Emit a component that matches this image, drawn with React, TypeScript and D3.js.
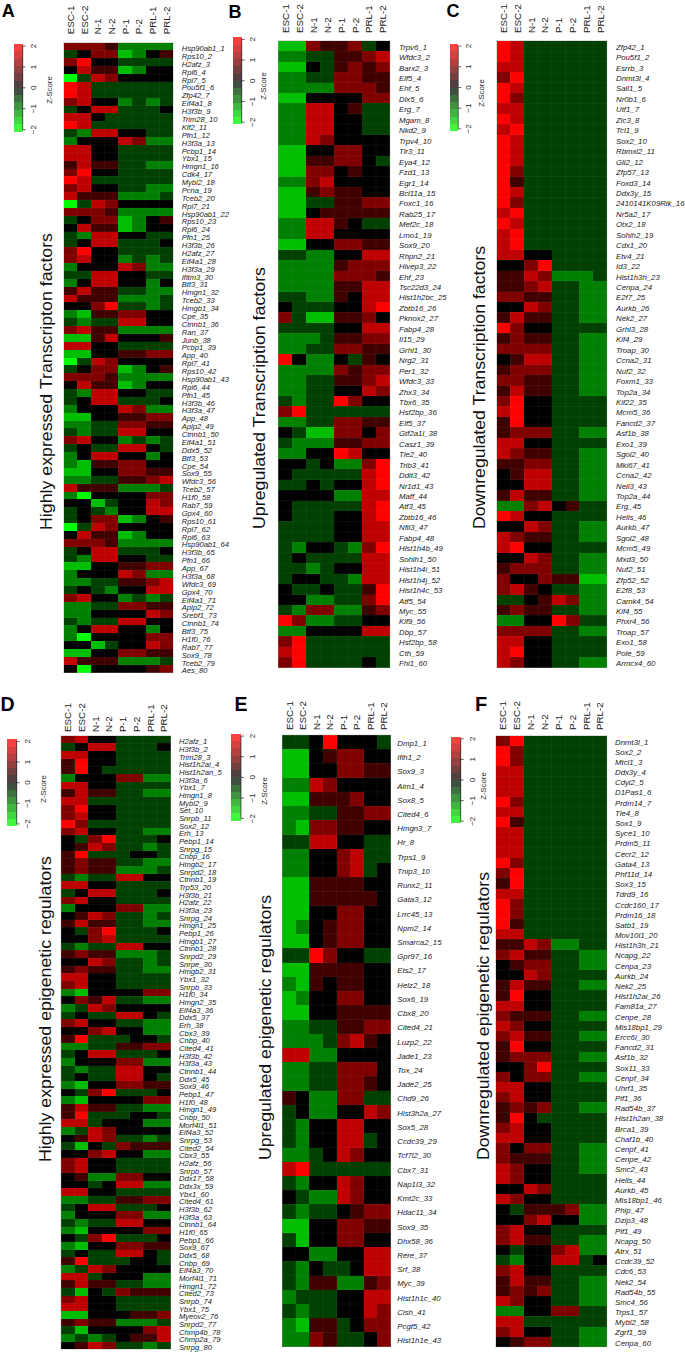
import React from 'react';
import * as d3 from 'd3';

const samples = ["ESC-1", "ESC-2", "N-1", "N-2", "P-1", "P-2", "PRL-1", "PRL-2"];
const keyTicks = [-2, -1, 0, 1, 2];

// level per cell: 0 black, 1-4 red steps, a-d green steps (half a z-score each)
const stepValues: Record<string, number> = { "0": 0, "1": 0.5, "2": 1, "3": 1.5, "4": 2, a: -0.5, b: -1, c: -1.5, d: -2 };

const genesA = ["Hsp90ab1_1","Rps10_2","H2afz_3","Rpl6_4","Rpl7_5","Pou5f1_6","Zfp42_7","Eif4a1_8","H3f3b_9","Trim28_10","Klf2_11","Pfn1_12","H3f3a_13","Pcbp1_14","Ybx1_15","Hmgn1_16","Cdk4_17","Mybl2_18","Pcna_19","Tceb2_20","Rpl7_21","Hsp90ab1_22","Rps10_23","Rpl6_24","Pfn1_25","H3f3b_26","H2afz_27","Eif4a1_28","H3f3a_29","Ifitm3_30","Btf3_31","Hmgn1_32","Tceb2_33","Hmgb1_34","Cpe_35","Ctnnb1_36","Ran_37","Junb_38","Pcbp1_39","App_40","Rpl7_41","Rps10_42","Hsp90ab1_43","Rpl6_44","Pfn1_45","H3f3b_46","H3f3a_47","App_48","Aplp2_49","Ctnnb1_50","Eif4a1_51","Ddx5_52","Btf3_53","Cpe_54","Sox9_55","Wfdc3_56","Tceb2_57","H1f0_58","Rab7_59","Gpx4_60","Rps10_61","Rpl7_62","Rpl6_63","Hsp90ab1_64","H3f3b_65","Pfn1_66","App_67","H3f3a_68","Wfdc3_69","Gpx4_70","Eif4a1_71","Aplp2_72","Srebf1_73","Ctnnb1_74","Btf3_75","H1f0_76","Rab7_77","Sox9_78","Tceb2_79","Aes_80"];
const levelsA = ["2221bbbb","a022cb01","2400aaaa","0311cb00","da320000","43aaaaaa","43aaaaaa","2300baba","a033aaa0","330aaaaa","43aaaaaa","ab3300aa","b00032bb","3300aaaa","3300aaaa","1311aabb","2400aaaa","43aaaaaa","2300aabb","3111bbba","da320000","2221bbbb","a022cb01","0311cb00","ab3300aa","a033aaa0","2400aaaa","2300baba","b00032bb","aa3300aa","b03300b0","1311aabb","3111bbba","0024aaba","bc112200","abaa3300","2311bbbb","cc130001","3300aaaa","cc001122","da320000","a022cb01","2221bbbb","0311cb00","ab3300aa","a033aaa0","b00032bb","cc001122","bbaa2211","abaa3300","2300baba","a0aa330a","b03300b0","bc112200","cc002211","bbaa1123","3111bbba","bd000022","00ca0032","a0ab0033","a022cb01","da320000","0311cb00","2221bbbb","a033aaa0","ab3300aa","cc001122","b00032bb","bbaa1123","a0ab0033","2300baba","bbaa2211","bb000032","abaa3300","b03300b0","bd000022","00ca0032","cc002211","3111bbba","0d000012"];

const genesB = ["Trpv6_1","Wfdc3_2","Barx2_3","Elf5_4","Ehf_5","Dlx5_6","Erg_7","Mgam_8","Nkd2_9","Trpv4_10","Tlr3_11","Eya4_12","Fzd1_13","Egr1_14","Bcl11a_15","Foxc1_16","Rab25_17","Mef2c_18","Lmo1_19","Sox9_20","Rhpn2_21","Hivep3_22","Ehf_23","Tsc22d3_24","Hist1h2bc_25","Zbtb16_26","Pknox2_27","Fabp4_28","Il15_29","Grhl1_30","Nrg2_31","Per1_32","Wfdc3_33","Zhx3_34","Tbx6_35","Hsf2bp_36","Elf5_37","Gtf2a1l_38","Casz1_39","Tle2_40","Trib3_41","Ddit3_42","Nr1d1_43","Maff_44","Atf3_45","Zbtb16_46","Nfil3_47","Fabp4_48","Hist1h4b_49","Sohlh1_50","Hist1h4i_51","Hist1h4j_52","Hist1h4c_53","Atf5_54","Myc_55","Klf9_56","Dbp_57","Hsf2bp_58","Cth_59","Fhl1_60"];
const levelsB = ["cc2112a0","bbaa1123","cc0a1212","bbaa2211","bbbb2221","cc000022","bb3301aa","bb3300aa","bb3300aa","bb320000","cc002200","cc11220a","cc220100","bb230000","cc121100","ccaa1122","cc011111","bb3310aa","bb330000","cc002211","aabb0033","bbbb1222","bbbb2221","bbbb1133","aabb1033","0aaa0034","2acc1120","aaaa0033","bbba1122","bbaa2211","40bb0a10","bbbb2122","bbaa1123","bbaa0032","abaa4200","24aaaaaa","bbaa2211","0acc2202","abbb1122","bb004300","00a0bb24","0aaaaa34","aa0a0034","0000bb33","0aaaaa34","0aaa0034","aaaa0033","aaaa0033","ab00ab24","a0aaaa33","aaba0033","a00aab33","0aa0aa14","00bbaa24","ab22bb12","42bbaa00","bb000033","24aaaaaa","34aaaaaa","24aaaa0a"];

const genesC = ["Zfp42_1","Pou5f1_2","Esrrb_3","Dnmt3l_4","Sall1_5","Nr0b1_6","Utf1_7","Zic3_8","Tcl1_9","Sox2_10","Rbmxl2_11","Gli2_12","Zfp57_13","Foxd3_14","Ddx3y_15","2410141K09Rik_16","Nr5a2_17","Otx2_18","Sohlh2_19","Cdx1_20","Etv4_21","Id3_22","Hist1h3h_23","Cenpa_24","E2f7_25","Aurkb_26","Nek2_27","Grhl3_28","Kif4_29","Troap_30","Ccna2_31","Nuf2_32","Foxm1_33","Top2a_34","Kif22_35","Mcm5_36","Fancd2_37","Asf1b_38","Exo1_39","Sgol2_40","Mki67_41","Ccna2_42","Neil3_43","Top2a_44","Erg_45","Hells_46","Aurkb_47","Sgol2_48","Mcm5_49","Mxd3_50","Nuf2_51","Zfp52_52","E2f8_53","Camk4_54","Kif4_55","Phxr4_56","Troap_57","Exo1_58","Pole_59","Armcx4_60"];
const levelsC = ["43aaaaaa","43aaaaaa","33aaaaaa","24aaaaaa","43aaaaaa","42aaaaaa","33aaaaaa","43aaaaaa","34aaaaaa","43aaaaaa","43aaaaaa","43aaaaaa","42aaaaaa","41aaaaaa","43aaaaaa","42aaaaaa","34aaaaaa","43aaaaaa","34aaaaaa","34aaaaaa","3300aaaa","0024aaaa","1132bbba","1123aabb","2211aabb","0032aabb","1311aabb","4200aaaa","1211aabb","2222aabb","0133aabb","1222aabb","2211aabb","1311aabb","2400aaaa","3400aaaa","1400aaaa","1222aabb","3300aaaa","3211aabb","1122aabb","0133aabb","0033aabb","1311aabb","bb2301aa","4300aaaa","0032aabb","3211aabb","3400aaaa","0032aabb","1222aabb","200211cc","2310aabb","aa0132bb","1211aabb","bb0042aa","2222aabb","3300aaaa","3400aaaa","3200aabb"];

const genesD = ["H2afz_1","H3f3b_2","Trim28_3","Hist1h2ai_4","Hist1h2an_5","H3f3a_6","Ybx1_7","Hmgn1_8","Mybl2_9","Set_10","Snrpb_11","Sox2_12","Erh_13","Pebp1_14","Snrpg_15","Cnbp_16","Hmgb2_17","Snrpd2_18","Ctnnb1_19","Trp53_20","H3f3b_21","H2afz_22","H3f3a_23","Snrpg_24","Hmgn1_25","Pebp1_26","Hmgb1_27","Ctnnb1_28","Snrpd2_29","Snrpe_30","Hmgb2_31","Ybx1_32","Snrpb_33","H1f0_34","Hmgn2_35","Eif4a3_36","Ddx5_37","Erh_38","Cbx3_39","Cnbp_40","Cited4_41","H3f3b_42","H3f3a_43","Ctnnb1_44","Ddx5_45","Sox9_46","Pebp1_47","H1f0_48","Hmgn1_49","Cnbp_50","Morf4l1_51","Eif4a3_52","Snrpg_53","Cited2_54","Cbx3_55","H2afz_56","Snrpb_57","Ddx17_58","Ddx3x_59","Ybx1_60","Cited4_61","H3f3b_62","H3f3a_63","Ctnnb1_64","H1f0_65","Pebp1_66","Sox9_67","Ddx5_68","Cnbp_69","Eif4a3_70","Morf4l1_71","Hmgn1_72","Cited2_73","Snrpb_74","Ybx1_75","Myeov2_76","Snrpd2_77","Chmp4b_78","Chmp2a_79","Snrpg_80"];
const levelsD = ["2300aaaa","a033aaa0","3300aaaa","1400aaaa","140aaaaa","b00022bb","3300aaaa","1311aabb","33aaaaaa","2400aaaa","2300aaaa","42aaaaaa","2300aabb","0a24aaa0","0132aaba","14aaa00a","1211aabb","1211bbba","abaa3300","3300aaaa","a033aaa0","2300aaaa","b00022bb","0132aaba","1311aabb","0a24aaa0","0023aaaa","abaa3300","1211bbba","0032aaba","1211aabb","3300aaaa","2300aaaa","bc000022","0213aabb","ba320000","a0aa330a","2300aabb","002300bb","14aaa00a","bbaa1122","a033aaa0","b00022bb","abaa3300","a0aa330a","bc002211","0a24aaa0","bc000022","1311aabb","14aaa00a","33a000bb","ba320000","0132aaba","ac0a2111","002300bb","2300aaaa","2300aaaa","01bb2200","00a033bb","3300aaaa","bbaa1122","a033aaa0","b00022bb","abaa3300","bc000022","0a24aaa0","bc002211","a0aa330a","14aaa00a","ba320000","33a000bb","1311aabb","ac0a2111","2300aaaa","3300aaaa","cc000112","1211bbba","ac000023","baba0113","0132aaba"];

const genesE = ["Dmp1_1","Ifih1_2","Sox9_3","Aim1_4","Sox8_5","Cited4_6","Hmgn3_7","Hr_8","Trps1_9","Tnip3_10","Runx2_11","Gata3_12","Lrrc45_13","Npm2_14","Smarca2_15","Gpr97_16","Ets2_17","Helz2_18","Sox6_19","Cbx8_20","Cited4_21","Luzp2_22","Jade1_23","Tox_24","Jade2_25","Chd9_26","Hist3h2a_27","Sox5_28","Ccdc39_29","Tcf7l2_30","Cbx7_31","Nap1l3_32","Kmt2c_33","Hdac11_34","Sox9_35","Dhx58_36","Rere_37","Srf_38","Myc_39","Hist1h1c_40","Cish_41","Pcgf5_42","Hist1h1e_43"];
const levelsE = ["aa04000a","cc012200","cc002211","bb320000","cc111200","bbaa1122","bc221100","aa3300aa","bb0023aa","bb0023a0","cc111100","cc111110","cc002200","cb012200","cc012200","aa4200aa","cc111100","bc101100","cb002200","cc001111","bbaa1122","bbba2310","33bb0000","bbaa2220","bbaa2210","10bb22aa","a0bb0032","ab003300","ab0033a0","bba03200","34aaaaaa","ab003200","0abb3200","abaa0122","cc002211","ac002200","00bb0033","ab0aa033","ab11bb12","baaa0033","abaa0032","bc11a022","bb21aa02"];

const genesF = ["Dnmt3l_1","Sox2_2","Mtcl1_3","Ddx3y_4","Cdyl2_5","D1Pas1_6","Prdm14_7","Tle4_8","Sox1_9","Syce1_10","Prdm5_11","Cecr2_12","Gata4_13","Phf11d_14","Sox3_15","Tdrd9_16","Ccdc160_17","Prdm16_18","Satb1_19","Mov10l1_20","Hist1h3h_21","Ncapg_22","Cenpa_23","Aurkb_24","Nek2_25","Hist1h2ai_26","Fam81a_27","Cenpe_28","Mis18bp1_29","Ercc6l_30","Fancd2_31","Asf1b_32","Sox11_33","Cenpf_34","Uhrf1_35","Pif1_36","Rad54b_37","Hist1h2an_38","Brca1_39","Chaf1b_40","Cenpf_41","Cenpe_42","Smc2_43","Hells_44","Aurkb_45","Mis18bp1_46","Phip_47","Dzip3_48","Pif1_49","Ncapg_50","Atrx_51","Ccdc39_52","Cdc6_53","Nek2_54","Rad54b_55","Smc4_56","Trps1_57","Mybl2_58","Zgrf1_59","Cenpa_60"];
const levelsF = ["24aaaaaa","42aaaaaa","42aaaaaa","33aaaaaa","33aaaaaa","33aaaaaa","42aaaaaa","33aaaaaa","41aaaaaa","33aaaaaa","33aaaaaa","33aaaaaa","42aaaaaa","24aaaaaa","14aaaaaa","33aaaaaa","42aaaaaa","42aaaaaa","41aaaaaa","33aaaaaa","1132bbaa","2311aabb","0122aabb","0032aaaa","1311aabb","1400aaaa","3300aaaa","2111aabb","3200aaaa","2311aabb","1400aaaa","1222aabb","0024aaaa","2022aabb","3300aaaa","2300aaaa","1212aabb","140aaaaa","2300aaaa","3300aaaa","2022aabb","2111aabb","3200aabb","3200aaaa","0032aaaa","3200aaaa","0a1112bb","002300bb","2300aaaa","2311aabb","0a0023bb","ab0033a0","2300aaaa","1311aabb","1212aabb","3200aabb","bb0022aa","33aaaaaa","2300aabb","0122aabb"];

const panels = [
  { letter: "A", letterX: 1.7, letterY: 17.3, letterSize: 18, title: "Highly expressed Transcripton factors", titleX: 51.7, titleY: 530, titleLen: 297, genes: genesA, levels: levelsA, x0: 63.5, x1: 173.3, y0: 42.5, y1: 672.7, headY: 34.3, labelX: 181.7, labelDy: 2, labelSize: 7.6, keyX0: 14, keyX1: 22.7, keyY0: 44, keyY1: 131.7, tickX: 36, zX: 52, zY: 90 },
  { letter: "B", letterX: 228.5, letterY: 17.7, letterSize: 18, title: "Upregulated Transcription factors", titleX: 265, titleY: 529, titleLen: 262, genes: genesB, levels: levelsB, x0: 278.3, x1: 390, y0: 40.7, y1: 667.7, headY: 33, labelX: 399, labelDy: 1, labelSize: 7.8, keyX0: 232.7, keyX1: 241.7, keyY0: 37.3, keyY1: 124.3, tickX: 255, zX: 266, zY: 86 },
  { letter: "C", letterX: 446.5, letterY: 16.7, letterSize: 18, title: "Downregulated Transcription factors", titleX: 485, titleY: 529, titleLen: 283, genes: genesC, levels: levelsC, x0: 496.7, x1: 607, y0: 40.7, y1: 667.7, headY: 33, labelX: 616, labelDy: 1, labelSize: 7.8, keyX0: 449.7, keyX1: 458.3, keyY0: 44, keyY1: 131, tickX: 471, zX: 484, zY: 93 },
  { letter: "D", letterX: 0.5, letterY: 710.7, letterSize: 19.5, title: "Highly expressed epigenetic regulators", titleX: 50.7, titleY: 1162, titleLen: 306, genes: genesD, levels: levelsD, x0: 61, x1: 170.7, y0: 735.7, y1: 1349.3, headY: 732, labelX: 179, labelDy: 2, labelSize: 7.6, keyX0: 7.3, keyX1: 16.7, keyY0: 739.3, keyY1: 826, tickX: 30, zX: 45.5, zY: 789 },
  { letter: "E", letterX: 234.5, letterY: 711, letterSize: 19.5, title: "Upregulated epigenetic regulators", titleX: 270.7, titleY: 1160, titleLen: 265, genes: genesE, levels: levelsE, x0: 282.3, x1: 390.7, y0: 735, y1: 1346.7, headY: 730, labelX: 397.3, labelDy: 1, labelSize: 7.8, keyX0: 231, keyX1: 241, keyY0: 734, keyY1: 820.7, tickX: 254.5, zX: 267, zY: 791 },
  { letter: "F", letterX: 475, letterY: 711, letterSize: 20, title: "Downregulated epigenetic regulators", titleX: 489, titleY: 1160, titleLen: 288, genes: genesF, levels: levelsF, x0: 495.7, x1: 607, y0: 735.7, y1: 1347, headY: 730, labelX: 615, labelDy: 1, labelSize: 7.8, keyX0: 450.7, keyX1: 460.7, keyY0: 736.7, keyY1: 823.3, tickX: 474.5, zX: 486, zY: 786 },
];

const color = d3.scaleLinear<string>().domain([-2, 0, 2]).range(["#00ff00", "#000000", "#ff0000"]).clamp(true);
const keyEdges = d3.range(13).map(i => -2.1 + i * 0.35);
const font = "'Liberation Sans', Arial, sans-serif";

const Panel = ({ p }: { p: typeof panels[number] }) => {
  const x = d3.scaleBand().domain(samples).range([p.x0, p.x1]);
  const rows = d3.range(p.genes.length).map(String);
  const y = d3.scaleBand().domain(rows).range([p.y0, p.y1]);
  const key = d3.scaleLinear().domain([-2.1, 2.1]).range([p.keyY1, p.keyY0]);

  return (
    <g fontFamily={font}>
      <text transform={`translate(${p.letterX},${p.letterY})`} fontSize={p.letterSize} fontWeight="bold" fill="#000">{p.letter}</text>

      <text transform={`translate(${p.titleX},${p.titleY}) rotate(-90)`} fontSize={17} textLength={p.titleLen} lengthAdjust="spacingAndGlyphs" fill="#111">{p.title}</text>

      {samples.map(s => (
        <text key={s} transform={`translate(${x(s)! + x.bandwidth() / 2},${p.headY}) rotate(-90)`} dy="0.35em" fontSize={9.8} fill="#222">{s}</text>
      ))}

      <g shapeRendering="crispEdges">
        {p.levels.map((row, i) => row.split("").map((c, j) => (
          <rect key={`${i}-${j}`} x={x(samples[j])} y={y(String(i))} width={x.bandwidth()} height={y.bandwidth()}
            fill={color(stepValues[c])} />
        )))}
      </g>
      {/* faint cell rules, the source image has them too */}
      <g stroke="#a0a0a0" strokeOpacity={0.14} strokeWidth={0.6}>
        {rows.map(r => <line key={r} x1={p.x0} x2={p.x1} y1={y(r)} y2={y(r)} />)}
        {samples.map(s => <line key={s} x1={x(s)} x2={x(s)} y1={p.y0} y2={p.y1} />)}
      </g>
      <rect x={p.x0} y={p.y0} width={p.x1 - p.x0} height={p.y1 - p.y0} fill="none" stroke="#a0a0a0" strokeOpacity={0.5} strokeWidth={0.6} />

      {p.genes.map((g, i) => (
        <text key={i} x={p.labelX} y={y(String(i))! + y.bandwidth() / 2 + p.labelDy} dy="0.35em"
          fontSize={p.labelSize} fontStyle="italic" fill="#1a1a1a">{g}</text>
      ))}

      <g shapeRendering="crispEdges">
        {keyEdges.slice(0, -1).map((e, i) => (
          <rect key={e} x={p.keyX0} y={key(keyEdges[i + 1])} width={p.keyX1 - p.keyX0} height={key(e) - key(keyEdges[i + 1])}
            fill={color(e + 0.175)} fillOpacity={0.75} />
        ))}
      </g>
      <line x1={p.keyX1} x2={p.keyX1} y1={key(-2)} y2={key(2)} stroke="#222" strokeWidth={0.7} />
      {keyTicks.map(t => (
        <g key={t}>
          <line x1={p.keyX1} x2={p.keyX1 + 3} y1={key(t)} y2={key(t)} stroke="#222" strokeWidth={0.7} />
          <text transform={`translate(${p.tickX},${key(t)}) rotate(-90)`} textAnchor="middle" fontSize={8} fill="#222">{t < 0 ? `\u2212${-t}` : t}</text>
        </g>
      ))}
      <text transform={`translate(${p.zX},${p.zY}) rotate(-90)`} textAnchor="middle" fontSize={7.7} fill="#222">Z-Score</text>
    </g>
  );
};

export default function App() {
  return (
    <svg width={685} height={1354} style={{ position: "absolute", left: 0, top: 0, display: "block", background: "#fff" }}>
      {panels.map(p => <Panel key={p.letter} p={p} />)}
    </svg>
  );
}
